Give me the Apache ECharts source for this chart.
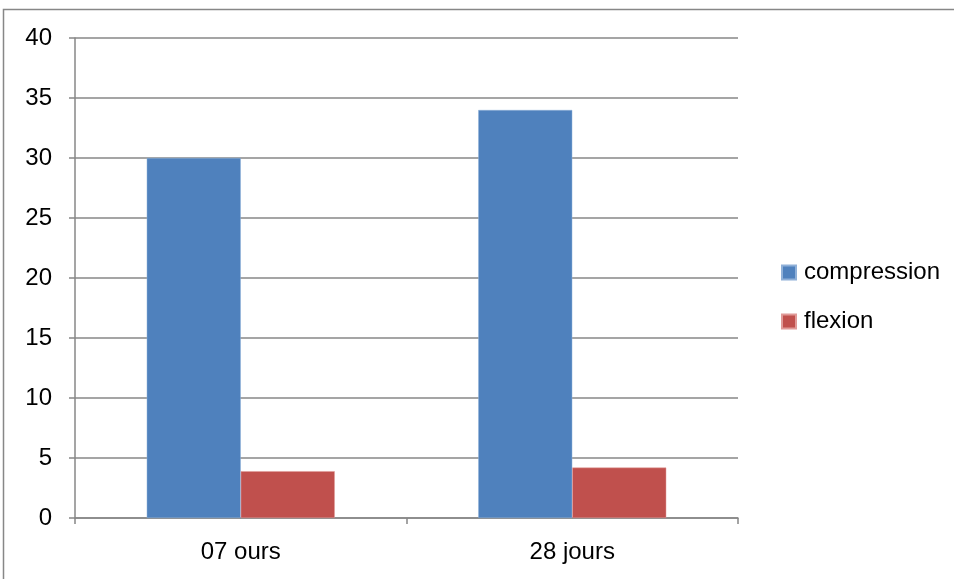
<!DOCTYPE html>
<html>
<head>
<meta charset="utf-8">
<script src="https://cdn.jsdelivr.net/npm/echarts@6/dist/echarts.min.js"></script>
<style>
  html, body { margin: 0; padding: 0; background: #fff; }
  #main { width: 954px; height: 579px; }
</style>
</head>
<body>
<div id="main"></div>
<script>
// données
var categories = ['07 ours', '28 jours'];
var compression = [30, 34];
var flexion = [3.9, 4.2];
var yTicks = { min: 0, max: 40, interval: 5 };

var axisGray = '#878787';
var font = 'Liberation Sans, Arial, sans-serif';

var option = {
    backgroundColor: '#fff',
    animation: false,
    // cadre autour de la zone du graphique
    graphic: [{
        type: 'rect',
        shape: { x: 3.5, y: 9.5, width: 1000, height: 600 },
        style: { fill: 'none', stroke: axisGray, lineWidth: 1.5 },
        silent: true
    }],
    grid: {
        left: 75,
        right: 216,
        top: 38,
        bottom: 61,
        containLabel: false
    },
    legend: {
        orient: 'vertical',
        left: 781,
        top: 259,
        padding: 0,
        itemWidth: 14,
        itemHeight: 14,
        itemGap: 22,
        icon: 'rect',
        textStyle: { fontFamily: font, fontSize: 24, lineHeight: 27, color: '#000', padding: [0, 0, 0, 3] },
        data: ['compression', 'flexion']
    },
    xAxis: {
        type: 'category',
        data: categories,
        boundaryGap: true,
        axisLine: { lineStyle: { color: axisGray, width: 1.5 } },
        axisTick: { show: true, length: 6, lineStyle: { color: axisGray, width: 1.5 } },
        axisLabel: { color: '#000', fontFamily: font, fontSize: 24, margin: 22 },
        splitLine: { show: false }
    },
    yAxis: {
        type: 'value',
        min: yTicks.min,
        max: yTicks.max,
        interval: yTicks.interval,
        axisLine: { show: true, lineStyle: { color: axisGray, width: 1.5 } },
        axisTick: { show: true, length: 6, lineStyle: { color: axisGray, width: 1.5 } },
        axisLabel: { color: '#000', fontFamily: font, fontSize: 24, margin: 23 },
        splitLine: { show: true, lineStyle: { color: axisGray, width: 1.5 } }
    },
    series: [{
        name: 'compression',
        type: 'bar',
        data: compression,
        barWidth: 94,
        barGap: '0%',
        itemStyle: { color: '#4F81BD', borderColor: '#8fb0d8', borderWidth: 0.5 }
    }, {
        name: 'flexion',
        type: 'bar',
        data: flexion,
        barWidth: 94,
        itemStyle: { color: '#C0504D', borderColor: '#e09a98', borderWidth: 0.5 }
    }]
};

var myChart = echarts.init(document.getElementById('main'));
myChart.setOption(option);
</script>
</body>
</html>
